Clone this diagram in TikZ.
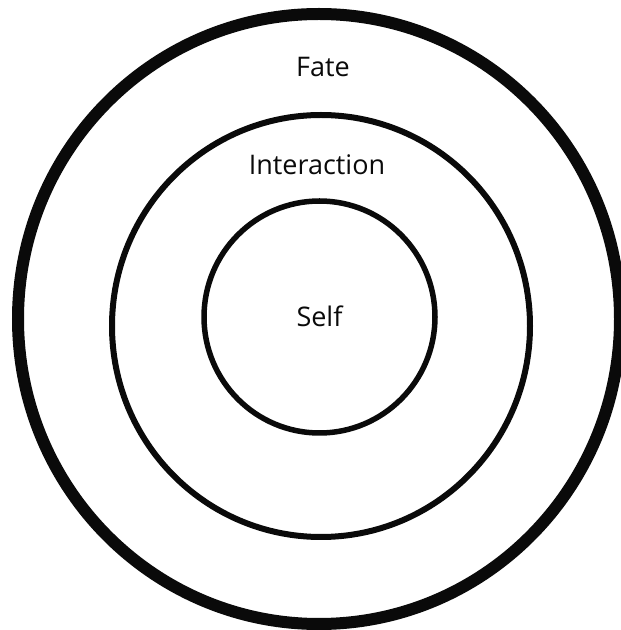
\documentclass[tikz,border=0pt]{standalone}
\usepackage{fontspec}
\setmainfont{Open Sans}
\usepackage{tikz}
\usepackage{xcolor}
\usetikzlibrary{shapes.geometric,positioning}
\definecolor{Ink}{HTML}{0A0A0A}

\begin{document}
\begin{tikzpicture}[x=1pt,y=1pt,
    ring/.style={ellipse,draw=Ink,inner sep=0pt,outer sep=0pt},
    lbl/.style={font=\fontsize{27}{30}\selectfont,text=Ink,inner sep=0pt}]
  \useasboundingbox (0,0) rectangle (621,630);
  \node[ring,line width=12pt,minimum width=602,minimum height=610] (fate) at (319,311) {};
  \node[ring,line width=6pt,minimum width=418,minimum height=422] (inter) at (321,304) {};
  \node[ring,line width=5.5pt,minimum width=231,minimum height=232] (self) at (319.5,313) {};
  \node[lbl] (fatelbl) at (323,563) {Fate};
  \node[lbl] (interlbl) at (317,465) {Interaction};
  \node[lbl] (selflbl) at (319.5,314) {Self};
\end{tikzpicture}
\end{document}
